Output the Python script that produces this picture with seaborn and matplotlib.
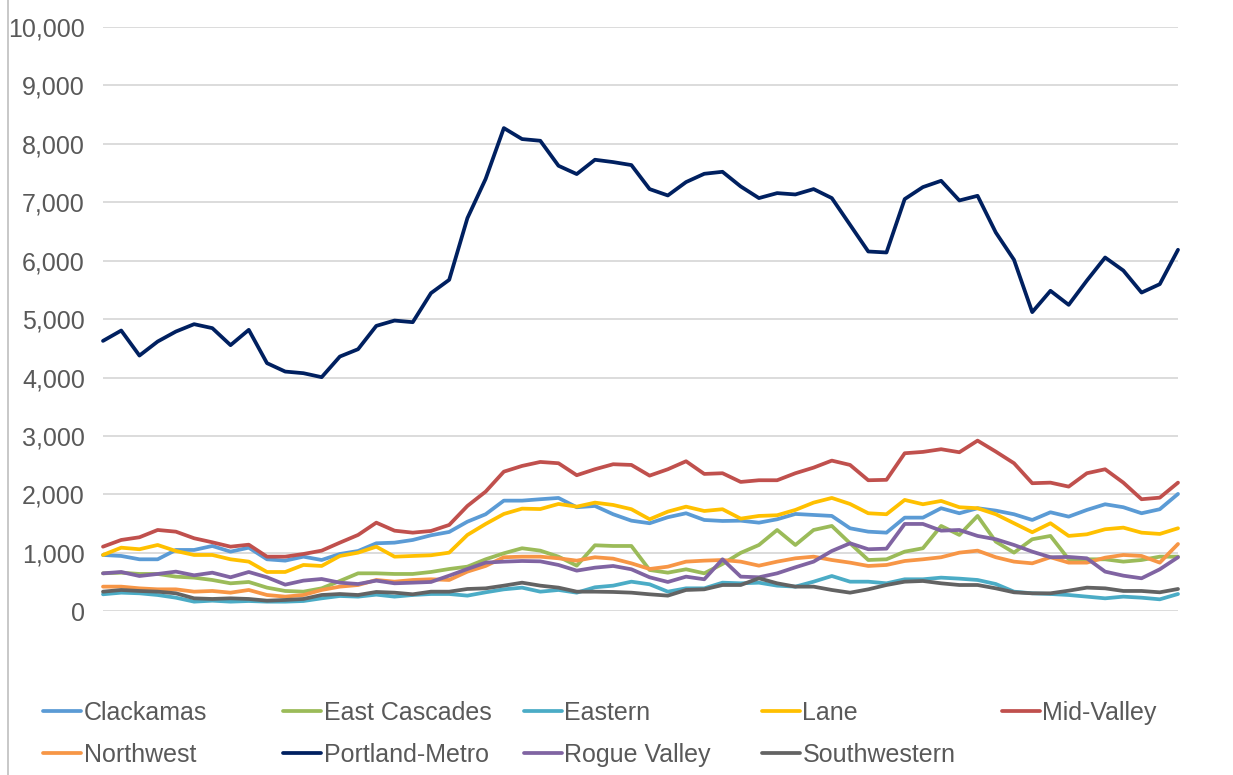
import pandas as pd
import matplotlib.pyplot as plt
import seaborn as sns
from matplotlib.lines import Line2D
from matplotlib.ticker import FuncFormatter

# Monthly values per region (60 periods)
clackamas = [964, 947, 890, 890, 1050, 1050, 1118, 1021, 1089, 890, 867, 935,
             878, 981, 1032, 1164, 1175, 1221, 1301, 1358, 1534, 1661, 1894, 1894,
             1918, 1940, 1781, 1803, 1661, 1551, 1507, 1610, 1678, 1563, 1546, 1551,
             1517, 1575, 1666, 1649, 1632, 1421, 1363, 1346, 1603, 1603, 1764, 1678,
             1764, 1723, 1661, 1563, 1695, 1620, 1735, 1832, 1781, 1678, 1747, 2009]
east_cascades = [650, 661, 639, 639, 593, 576, 536, 479, 502, 405, 348, 336,
                 393, 519, 650, 650, 639, 639, 673, 724, 764, 890, 993, 1079,
                 1038, 935, 781, 1130, 1118, 1118, 707, 661, 719, 650, 810, 1000,
                 1135, 1392, 1135, 1392, 1461, 1164, 878, 890, 1021, 1079, 1461, 1307,
                 1632, 1192, 1004, 1233, 1290, 890, 890, 890, 850, 878, 935, 935]
eastern = [291, 319, 308, 279, 233, 165, 182, 165, 176, 165, 165, 176,
           222, 262, 251, 285, 251, 279, 296, 296, 268, 325, 376, 405,
           336, 365, 319, 411, 439, 507, 462, 336, 393, 393, 490, 479,
           490, 439, 422, 507, 604, 507, 507, 479, 548, 548, 576, 559,
           536, 467, 336, 308, 296, 279, 251, 222, 251, 233, 205, 296]
lane = [964, 1089, 1062, 1135, 1032, 964, 964, 890, 850, 673, 673, 793,
        776, 947, 1004, 1106, 935, 947, 959, 1004, 1307, 1495, 1666, 1757,
        1750, 1837, 1791, 1860, 1820, 1747, 1575, 1706, 1791, 1717, 1747, 1586,
        1632, 1644, 1735, 1860, 1940, 1837, 1678, 1661, 1906, 1832, 1889, 1781,
        1764, 1661, 1507, 1353, 1507, 1290, 1318, 1404, 1432, 1346, 1324, 1421]
mid_valley = [1106, 1221, 1267, 1392, 1363, 1250, 1181, 1106, 1140, 935, 935, 981,
              1038, 1175, 1307, 1517, 1380, 1346, 1375, 1478, 1803, 2048, 2390, 2488,
              2556, 2534, 2329, 2431, 2517, 2505, 2322, 2431, 2568, 2351, 2363, 2214,
              2243, 2243, 2363, 2459, 2579, 2505, 2243, 2250, 2705, 2728, 2774, 2722,
              2921, 2733, 2534, 2192, 2202, 2134, 2363, 2431, 2202, 1918, 1945, 2202]
northwest = [422, 422, 393, 376, 376, 336, 348, 319, 365, 279, 251, 279,
             365, 422, 450, 536, 507, 536, 548, 536, 679, 776, 925, 935,
             935, 907, 867, 925, 901, 821, 724, 764, 850, 867, 878, 850,
             781, 850, 907, 935, 878, 833, 776, 793, 861, 890, 925, 1004,
             1038, 925, 850, 821, 925, 833, 833, 918, 964, 947, 833, 1152]
portland_metro = [4628, 4805, 4377, 4617, 4788, 4914, 4846, 4555, 4817, 4247, 4103, 4075,
                  4007, 4360, 4486, 4885, 4976, 4948, 5445, 5673, 6729, 7400, 8270, 8082,
                  8053, 7625, 7483, 7728, 7688, 7637, 7226, 7117, 7346, 7488, 7522, 7271,
                  7072, 7157, 7134, 7226, 7072, 6615, 6158, 6141, 7055, 7260, 7368, 7031,
                  7111, 6483, 6015, 5120, 5485, 5245, 5661, 6055, 5832, 5455, 5599, 6187]
rogue_valley = [650, 673, 604, 639, 679, 616, 661, 582, 673, 582, 456, 525,
                553, 490, 467, 525, 479, 490, 502, 610, 724, 833, 850, 861,
                855, 793, 696, 747, 776, 719, 582, 502, 593, 548, 890, 593,
                582, 650, 753, 850, 1032, 1164, 1062, 1072, 1495, 1495, 1380, 1392,
                1290, 1233, 1135, 1021, 925, 930, 907, 679, 610, 565, 719, 925]
southwestern = [336, 365, 348, 336, 308, 222, 211, 222, 211, 182, 194, 211,
                279, 296, 279, 331, 319, 291, 336, 336, 382, 393, 439, 490,
                439, 405, 336, 336, 331, 319, 291, 268, 365, 376, 450, 450,
                565, 479, 422, 422, 365, 319, 376, 450, 507, 519, 479, 450,
                450, 393, 325, 308, 308, 353, 405, 393, 348, 348, 325, 382]

regions = ['Clackamas', 'East Cascades', 'Eastern', 'Lane', 'Mid-Valley',
           'Northwest', 'Portland-Metro', 'Rogue Valley', 'Southwestern']
series = [clackamas, east_cascades, eastern, lane, mid_valley,
          northwest, portland_metro, rogue_valley, southwestern]
colors = ['#5B9BD5', '#9BBB59', '#4BACC6', '#FFC000', '#C0504D',
          '#F79646', '#002060', '#8064A2', '#636363']

df = pd.concat([pd.DataFrame({'Period': range(len(v)), 'Value': v, 'Region': r})
                for r, v in zip(regions, series)], ignore_index=True)

sns.set_style('white')
plt.rcParams['font.family'] = ['Liberation Sans', 'DejaVu Sans']

fig = plt.figure(figsize=(12.33, 7.75), dpi=100)
ax = fig.add_axes([103 / 1233, 1 - 611.3 / 775, 1075 / 1233, 584.3 / 775])

sns.lineplot(data=df, x='Period', y='Value', hue='Region', hue_order=regions,
             palette=colors, linewidth=2.7, ax=ax, legend=False, clip_on=False)

ax.set_xlim(0, 59)
ax.set_ylim(0, 10000)
ax.set_yticks(range(0, 10001, 1000))
ax.yaxis.set_major_formatter(FuncFormatter(lambda v, p: f'{int(v):,}'))
ax.set_xticks([])
ax.set_xlabel('')
ax.set_ylabel('')
ax.tick_params(axis='y', length=0, pad=13, labelsize=18, labelcolor='#595959')
ax.grid(axis='y', color='#D9D9D9', linewidth=1.3)
ax.set_axisbelow(True)
for s in ax.spines.values():
    s.set_visible(False)

# legend laid out like Excel: evenly spaced columns, row-major order
col_x = [43, 283, 524, 762, 1002]
row_y = [713, 755]
for i, (name, c) in enumerate(zip(regions, colors)):
    r, k = divmod(i, 5)
    h = Line2D([], [], color=c, linewidth=2.7)
    fig.legend([h], [name], loc='center left',
               bbox_to_anchor=(col_x[k] / 1233, 1 - row_y[r] / 775),
               frameon=False, fontsize=18, labelcolor='#595959',
               handlelength=1.5, handletextpad=0.12, borderpad=0, borderaxespad=0)

# left border of the chart area
fig.add_artist(Line2D([8 / 1233, 8 / 1233], [0, 1], color='#BFBFBF', linewidth=1.2))

fig.savefig('out.png', dpi=100)
